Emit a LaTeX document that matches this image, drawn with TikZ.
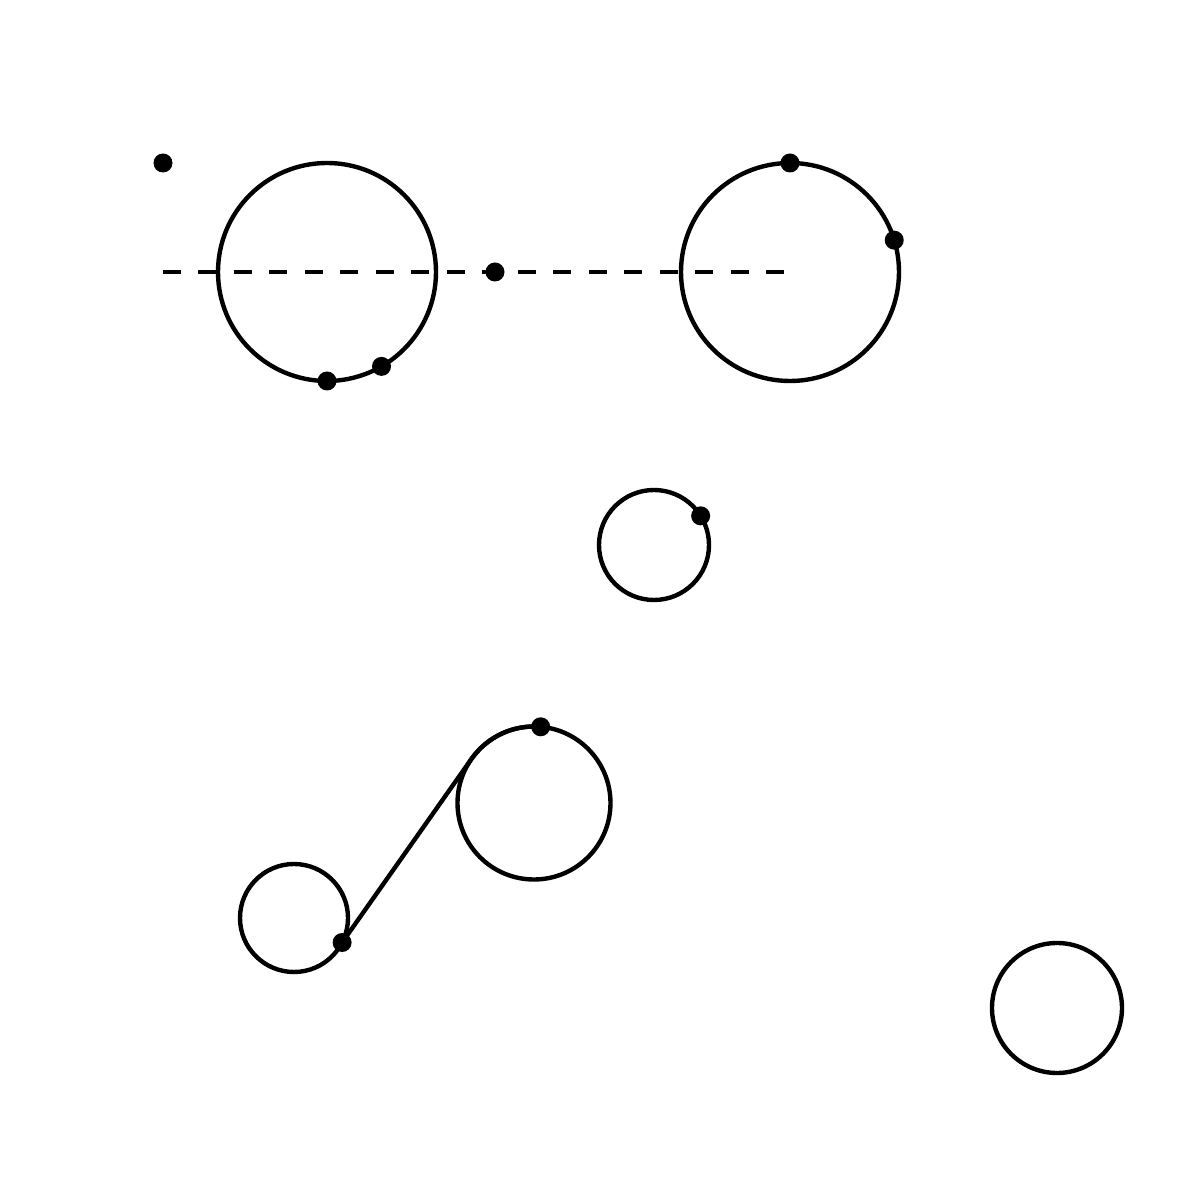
\documentclass[tikz,border=0pt]{standalone}
\usepackage{tikz}
\usetikzlibrary{positioning,calc}

\begin{document}
\begin{tikzpicture}[
    ring/.style={circle, draw, line width=1.25pt, inner sep=0pt, outer sep=0pt},
    dot/.style={circle, fill=black, inner sep=0pt, minimum size=0.19cm},
    dashline/.style={line width=1.25pt, dash pattern=on 5.1pt off 5pt},
    link/.style={line width=1.25pt}
]
\useasboundingbox (0,0) rectangle (12,12);

% Upper pair of circles
\node[ring, minimum size=2.18cm] (left) at (3.27,9.28) {};
\node[ring, minimum size=2.18cm] (right) at (7.90,9.28) {};
\node[dot] (corner) at (1.63,10.37) {};
\node[dot] (mid) at (4.95,9.28) {};
\node[dot] (leftlow) at (left.-90) {};
\node[dot] (leftside) at (left.-60) {};
\node[dot] (righttop) at (right.90) {};
\node[dot] (rightside) at (right.17) {};

% Dashed axis
\draw[dashline] (corner |- left.center) -- (right.center);

% Middle circle
\node[ring, minimum size=1.1cm] (middle) at (6.54,6.55) {};
\node[dot] (middot) at (middle.32) {};

% Lower circles
\node[ring, minimum size=1.53cm] (upper) at (5.34,3.97) {};
\node[ring, minimum size=1.08cm] (lower) at (2.94,2.82) {};
\node[ring, minimum size=1.3cm] (far) at (10.57,1.92) {};
\node[dot] (uppertop) at (upper.85) {};
\node[dot] (lowerdot) at (lower.-27) {};

% Tangent link
\coordinate (touch) at ($(upper.center)+(145:0.765)$);
\draw[link] (lowerdot.center) -- (touch) arc[start angle=145, end angle=85, radius=0.765];

\end{tikzpicture}
\end{document}
